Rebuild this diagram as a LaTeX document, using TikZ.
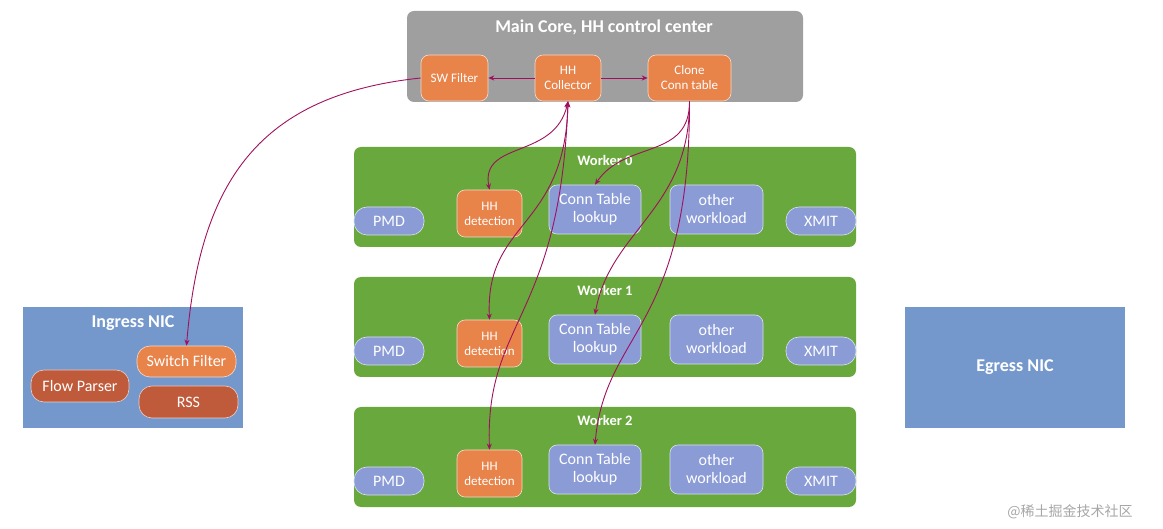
\documentclass[tikz,border=0pt]{standalone}
\usepackage{fontspec}
\setmainfont{Carlito}
\newfontfamily\cjk{Noto Sans CJK SC}
\usetikzlibrary{arrows.meta}
\definecolor{cgray}{HTML}{9F9F9F}
\definecolor{corange}{HTML}{E8834A}
\definecolor{cgreen}{HTML}{68A83C}
\definecolor{cblue}{HTML}{8A9BD6}
\definecolor{cnic}{HTML}{7598CC}
\definecolor{cred}{HTML}{BF5A3B}
\definecolor{carrow}{HTML}{A0105E}
\begin{document}
\begin{tikzpicture}[x=1pt,y=-1pt,
  box/.style={rounded corners=7pt,draw=none,inner sep=0},
  sub/.style={rounded corners=8pt,draw=white!70!#1,line width=0.6pt,fill=#1,text=white,align=center,inner sep=0,font=\fontsize{16}{18}\selectfont},
  small/.style={font=\fontsize{13}{15}\selectfont},
  pill/.style={rounded corners=13pt,draw=white!70!#1,line width=0.6pt,fill=#1,text=white,align=center,inner sep=0,font=\fontsize{16}{17}\selectfont},
  ttl/.style={text=white,font=\bfseries\fontsize{14.5}{16}\selectfont},
  con/.style={draw=carrow,line width=0.9pt,-{Stealth[length=6pt,width=5pt]}},
  bcon/.style={con,{Stealth[length=6pt,width=5pt]}-{Stealth[length=6pt,width=5pt]}}]
\useasboundingbox (0,0) rectangle (1163,529);
% main core
\node[box,fill=cgray,minimum width=396pt,minimum height=91pt] (main) at (605,56.5) {};
\node[ttl,font=\bfseries\fontsize{18}{20}\selectfont] (maint) at (604,27) {Main Core, HH control center};
\node[sub=corange,small,minimum width=67pt,minimum height=46pt] (swf) at (454.5,78) {SW Filter};
\node[sub=corange,small,minimum width=66pt,minimum height=46pt] (hhc) at (568,78) {HH\\Collector};
\node[sub=corange,small,minimum width=83pt,minimum height=46pt] (clone) at (689.5,78) {Clone\\Conn table};
\draw[con] (hhc) -- (swf);
\draw[con] (hhc) -- (clone);
% workers
\foreach \i/\y in {0/147,1/277,2/407}{
  \node[box,fill=cgreen,minimum width=502pt,minimum height=100pt] (w\i) at (605,\y+50) {};
  \node[ttl] (w\i t) at (605,\y+13) {Worker \i};
  \node[pill=cblue,minimum width=70pt,minimum height=28pt] (pmd\i) at (389,\y+74) {PMD};
  \node[sub=corange,small,minimum width=65pt,minimum height=47pt] (hhd\i) at (489.5,\y+66.5) {HH\\detection};
  \node[sub=cblue,minimum width=92pt,minimum height=49pt] (ctl\i) at (595,\y+62.5) {Conn Table\\lookup};
  \node[sub=cblue,minimum width=93pt,minimum height=49pt] (oth\i) at (716.5,\y+62.5) {other\\workload};
  \node[pill=cblue,minimum width=70pt,minimum height=28pt] (xm\i) at (821,\y+74) {XMIT};
}
% ingress / egress
\node[box,rounded corners=0,fill=cnic,minimum width=220pt,minimum height=121pt] (ing) at (133,367.5) {};
\node[ttl,font=\bfseries\fontsize{18}{20}\selectfont] (ingt) at (133,323) {Ingress NIC};
\node[pill=corange,minimum width=99pt,minimum height=31pt] (swi) at (186.5,361.5) {Switch Filter};
\node[pill=cred,minimum width=98pt,minimum height=32pt] (fp) at (80,386) {Flow Parser};
\node[pill=cred,minimum width=99pt,minimum height=32pt] (rss) at (188.5,402) {RSS};
\node[box,rounded corners=0,fill=cnic,minimum width=220pt,minimum height=121pt,text=white,font=\bfseries\fontsize{18}{20}\selectfont] (eg) at (1015,367.5) {Egress NIC};
% connectors
\draw[con] (swf.west) .. controls (260,95) and (200,180) .. (swi.north);
\draw[bcon] (hhc.south) .. controls (555,160) and (480,140) .. (hhd0.north);
\draw[bcon] (hhc.south) .. controls (565,230) and (485,220) .. (hhd1.north);
\draw[bcon] (hhc.south) .. controls (560,320) and (485,320) .. (hhd2.north);
\draw[con] (clone.south) .. controls (690,160) and (625,140) .. (ctl0.north);
\draw[con] (clone.south) .. controls (690,210) and (610,230) .. (ctl1.north);
\draw[con] (clone.south) .. controls (690,330) and (605,330) .. (ctl2.north);
\node[text=gray!70,font=\cjk\fontsize{14}{15}\selectfont] (wm) at (1070,512) {@稀土掘金技术社区};
\end{tikzpicture}
\end{document}
